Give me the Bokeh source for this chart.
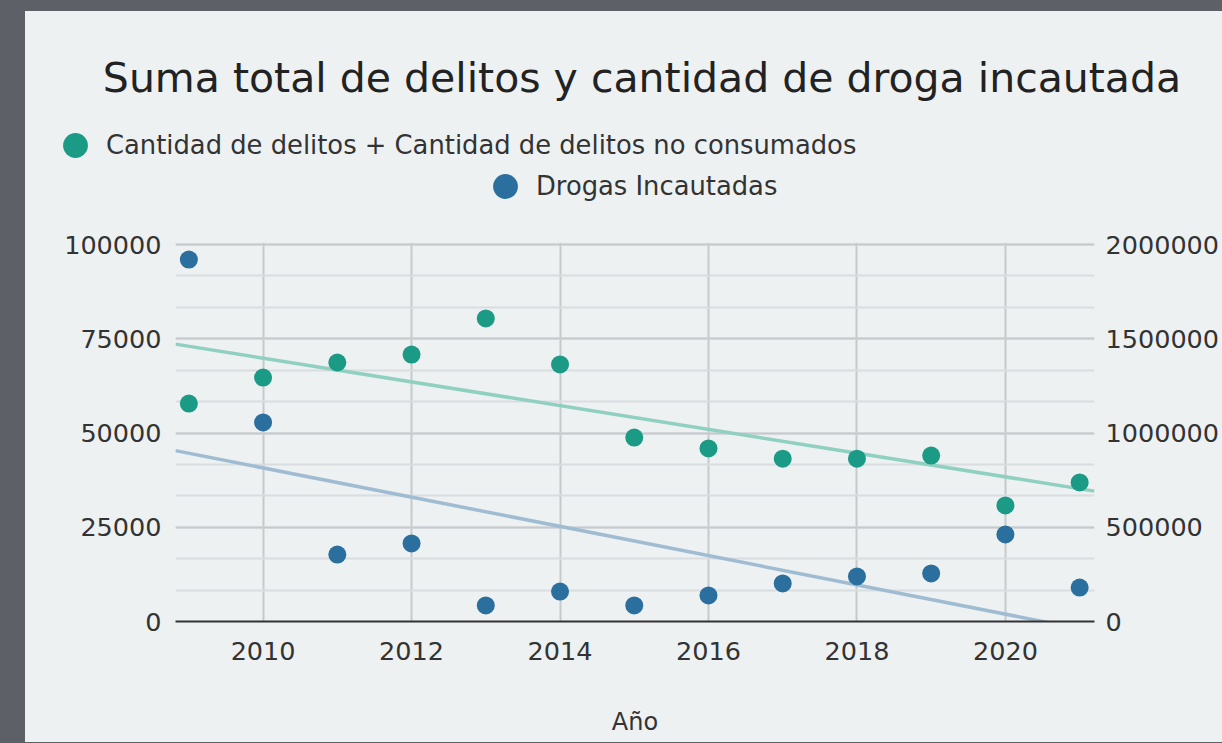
import numpy as np
from bokeh.plotting import figure
from bokeh.layouts import column
from bokeh.models import (Range1d, LinearAxis, SingleIntervalTicker, BasicTickFormatter,
                          Legend, LegendItem, ColumnDataSource, GlobalInlineStyleSheet, Label)
from bokeh.embed import file_html
from bokeh.resources import INLINE

# ---- data ----
years = [2009, 2010, 2011, 2012, 2013, 2014, 2015, 2016, 2017, 2018, 2019, 2020, 2021]
delitos = [57800, 64700, 68700, 70800, 80400, 68200, 48800, 45900, 43200, 43200, 44000, 30800, 36900]
drogas = [1920000, 1056000, 355000, 414000, 85000, 159000, 85000, 138000, 202000, 239000, 255000, 462000, 180000]

title_text = "Suma total de delitos y cantidad de droga incautada"
label_delitos = "Cantidad de delitos + Cantidad de delitos no consumados"
label_drogas = "Drogas Incautadas"
x_label = "Año"

GREEN = "#1b9a85"
BLUE = "#2b6f9f"
GREEN_T = "#8fd0c1"
BLUE_T = "#9fbcd2"
PANEL = "#edf1f2"
FONT = "DejaVu Sans"

W = 1197
HEAD_H = 213
MAIN_H = 518
x0, x1 = 2008.82, 2021.2
# a little headroom so the top grid line is not cut by the frame edge
pad = 379.0 / 377.0
y_left_max = 100000 * pad
y_right_max = 2000000 * pad

# ---------------- header: title + legend ----------------
head = figure(width=W, height=HEAD_H, output_backend="svg", toolbar_location=None,
              x_range=Range1d(0, W), y_range=Range1d(HEAD_H, 0),
              x_axis_type=None, y_axis_type=None,
              min_border_left=0, min_border_right=0, min_border_top=0, min_border_bottom=0,
              background_fill_color=PANEL, border_fill_color=PANEL, outline_line_color=None,
              frame_align=False)
head.grid.visible = False

head.add_layout(Label(x=616.5, y=66, text=title_text, text_align="center", text_baseline="middle",
                      text_font=FONT, text_font_size="41px", text_color="#222222"))

# legend keys (no data points of their own)
k1 = head.scatter(x=[np.nan], y=[np.nan], size=18, fill_color=GREEN, line_color=None)
k2 = head.scatter(x=[np.nan], y=[np.nan], size=18, fill_color=BLUE, line_color=None)

def make_legend(item_label, renderer, loc):
    return Legend(items=[LegendItem(label=item_label, renderers=[renderer])],
                  location=loc, orientation="horizontal",
                  glyph_width=62, glyph_height=62, label_standoff=0, padding=0, margin=0,
                  label_text_font=FONT, label_text_font_size="25.8px", label_text_color="#333333",
                  background_fill_alpha=0, border_line_alpha=0)

head.add_layout(make_legend(label_delitos, k1, (19, 48)), "center")
head.add_layout(make_legend(label_drogas, k2, (449, 7)), "center")

# ---------------- main chart ----------------
p = figure(width=W, height=MAIN_H, output_backend="svg", toolbar_location=None,
           x_range=Range1d(x0, x1), y_range=Range1d(0, y_left_max),
           min_border_left=150, min_border_right=127, min_border_top=18, min_border_bottom=121,
           background_fill_color=PANEL, border_fill_color=PANEL, outline_line_color=None,
           frame_align=False)
p.extra_y_ranges = {"drogas": Range1d(0, y_right_max)}

p.xaxis.ticker = SingleIntervalTicker(interval=2)
p.xaxis.axis_label = x_label
p.xaxis.axis_label_text_font = FONT
p.xaxis.axis_label_text_font_size = "24px"
p.xaxis.axis_label_text_font_style = "normal"
p.xaxis.axis_label_text_color = "#333333"
p.xaxis.axis_label_standoff = 45
p.xaxis.axis_line_color = "#333333"
p.xaxis.axis_line_width = 2
p.xaxis.major_label_standoff = 14

p.yaxis.ticker = SingleIntervalTicker(interval=25000, num_minor_ticks=3)
p.yaxis.formatter = BasicTickFormatter(use_scientific=False)
p.yaxis.axis_line_color = None
p.yaxis.major_label_standoff = 8

right = LinearAxis(y_range_name="drogas",
                   ticker=SingleIntervalTicker(interval=500000),
                   formatter=BasicTickFormatter(use_scientific=False))
right.axis_line_color = None
right.major_label_standoff = 5
p.add_layout(right, "right")

for ax in [p.xaxis[0], p.yaxis[0], right]:
    ax.major_tick_line_color = None
    ax.minor_tick_line_color = None
    ax.major_label_text_font = FONT
    ax.major_label_text_font_size = "25.5px"
    ax.major_label_text_color = "#333333"

p.xgrid.grid_line_color = "#c6cacc"
p.xgrid.grid_line_width = 2
p.ygrid.grid_line_color = "#c6cacc"
p.ygrid.grid_line_width = 2
p.ygrid.minor_grid_line_color = "#d9dddf"
p.ygrid.minor_grid_line_width = 2

# trend lines (least squares on the data)
xs = np.array(years, dtype=float)
m1, b1 = np.polyfit(xs, np.array(delitos, dtype=float), 1)
m2, b2 = np.polyfit(xs, np.array(drogas, dtype=float), 1)
tx = [x0, x1]
p.line(tx, [m1 * t + b1 for t in tx], line_color=GREEN_T, line_width=3.5)
p.line(tx, [m2 * t + b2 for t in tx], line_color=BLUE_T, line_width=3.5, y_range_name="drogas")

src = ColumnDataSource(dict(x=years, d=delitos, g=drogas))
p.scatter("x", "d", source=src, size=18, fill_color=GREEN, line_color=None)
p.scatter("x", "g", source=src, size=18, fill_color=BLUE, line_color=None, y_range_name="drogas")

layout = column(head, p, spacing=0,
                styles={"margin-left": "25px", "margin-top": "11px", "background-color": PANEL},
                stylesheets=[GlobalInlineStyleSheet(css="body { background-color: #5d6067; }")])

open("out.html", "w").write(file_html(layout, INLINE))
